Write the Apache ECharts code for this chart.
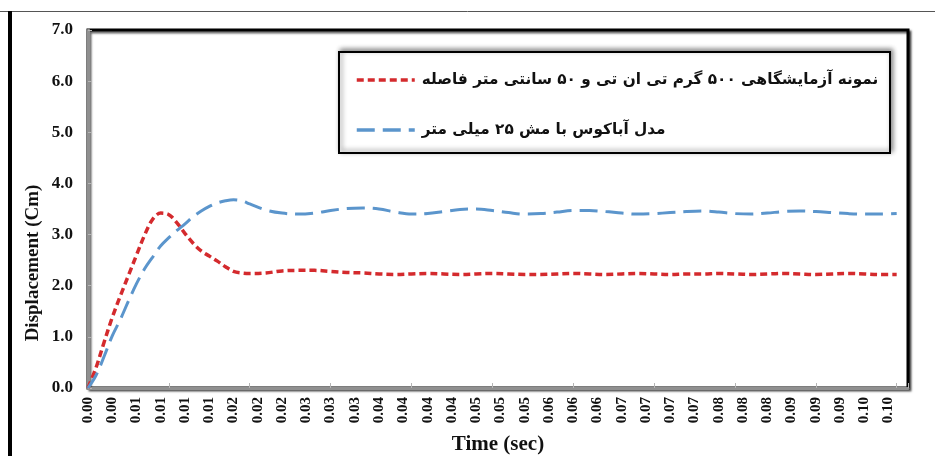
<!DOCTYPE html>
<html>
<head>
<meta charset="utf-8">
<script src="https://cdn.jsdelivr.net/npm/echarts@6/dist/echarts.min.js"></script>
<style>
  html, body { margin: 0; padding: 0; background: #fff; }
  #chart { width: 935px; height: 456px; }
</style>
</head>
<body>
<div id="chart"></div>
<script>
// Sample times (s)
const time = [
  0, 0.001, 0.002, 0.003, 0.004, 0.005, 0.006, 0.007, 0.008, 0.009,
  0.010, 0.011, 0.012, 0.013, 0.014, 0.015, 0.016, 0.017, 0.018, 0.019,
  0.020, 0.022, 0.024, 0.026, 0.028, 0.030, 0.032, 0.034, 0.036, 0.038,
  0.040, 0.042, 0.044, 0.046, 0.048, 0.050, 0.052, 0.054, 0.056, 0.058,
  0.060, 0.062, 0.064, 0.066, 0.068, 0.070, 0.072, 0.074, 0.076, 0.078,
  0.080, 0.082, 0.084, 0.086, 0.088, 0.090, 0.092, 0.094, 0.096, 0.098,
  0.100
];

// Laboratory specimen: 500 g TNT at 50 cm standoff (cm)
const labDisp = [
  0.00, 0.40, 0.90, 1.38, 1.80, 2.20, 2.60, 2.99, 3.30, 3.42,
  3.39, 3.23, 3.02, 2.83, 2.68, 2.58, 2.48, 2.37, 2.28, 2.25,
  2.24, 2.25, 2.29, 2.30, 2.30, 2.28, 2.26, 2.25, 2.23, 2.22,
  2.23, 2.24, 2.23, 2.22, 2.23, 2.24, 2.23, 2.22, 2.22, 2.23,
  2.24, 2.23, 2.22, 2.23, 2.24, 2.23, 2.22, 2.23, 2.23, 2.24,
  2.23, 2.22, 2.23, 2.24, 2.23, 2.22, 2.23, 2.24, 2.23, 2.22,
  2.22
];

// Abaqus model with 25 mm mesh (cm)
const femDisp = [
  0.00, 0.25, 0.62, 1.02, 1.34, 1.70, 2.04, 2.33, 2.56, 2.78,
  2.94, 3.08, 3.21, 3.35, 3.46, 3.55, 3.62, 3.66, 3.68, 3.66,
  3.60, 3.48, 3.42, 3.40, 3.42, 3.47, 3.51, 3.52, 3.50, 3.44,
  3.40, 3.41, 3.45, 3.49, 3.50, 3.47, 3.43, 3.40, 3.41, 3.44,
  3.47, 3.47, 3.45, 3.42, 3.40, 3.41, 3.43, 3.45, 3.46, 3.44,
  3.41, 3.40, 3.42, 3.45, 3.46, 3.45, 3.43, 3.41, 3.40, 3.40,
  3.41
];

const seriesNames = [
  'نمونه آزمایشگاهی ۵۰۰ گرم تی ان تی و ۵۰ سانتی متر فاصله',
  'مدل آباکوس با مش ۲۵ میلی متر'
];

const xTitle = 'Time (sec)';
const yTitle = 'Displacement (Cm)';

const serif = '"Liberation Serif", "Times New Roman", serif';
const chart = echarts.init(document.getElementById('chart'), null, { renderer: 'canvas' });

const pairs = (ys) => time.map((t, i) => [t, ys[i]]);

chart.setOption({
  animation: false,
  backgroundColor: '#fff',
  grid: {
    left: 88, right: 27, top: 30, bottom: 68,
    outerBoundsMode: 'none', containLabel: false,
    show: true, borderColor: '#000', borderWidth: 3,
    backgroundColor: '#fff',
    shadowColor: 'rgba(0,0,0,0.6)', shadowBlur: 2, shadowOffsetX: 2, shadowOffsetY: 2
  },
  xAxis: [
    {
      type: 'value', min: 0, max: 0.1014, interval: 0.003,
      axisLine: { show: true, onZero: false, lineStyle: { color: '#8f8f8f', width: 3 } },
      axisTick: { show: false },
      splitLine: { show: false },
      axisLabel: {
        rotate: 90, margin: 9, showMaxLabel: false,
        color: '#111', fontFamily: serif, fontWeight: 'bold', fontSize: 15,
        formatter: (v) => v.toFixed(2)
      },
      name: xTitle, nameLocation: 'middle', nameGap: 46,
      nameTextStyle: { color: '#111', fontFamily: serif, fontWeight: 'bold', fontSize: 21 }
    },
    {
      type: 'value', min: 0, max: 0.1014, interval: 0.01, position: 'bottom',
      axisLine: { show: false },
      axisTick: { show: true, inside: true, length: 5, lineStyle: { color: '#b5b5b5', width: 1 } },
      axisLabel: { show: false },
      splitLine: { show: false }
    }
  ],
  yAxis: {
    type: 'value', min: 0, max: 7, interval: 1,
    axisLine: { show: true, onZero: false, lineStyle: { color: '#8f8f8f', width: 3 } },
    axisTick: { show: true, inside: true, length: 4, lineStyle: { color: '#b5b5b5', width: 1 } },
    splitLine: { show: false },
    axisLabel: {
      margin: 15, color: '#111', fontFamily: serif, fontWeight: 'bold', fontSize: 17,
      formatter: (v) => v.toFixed(1)
    }
  },
  legend: {
    orient: 'vertical', left: 350, top: 63, itemGap: 26,
    itemWidth: 58, itemHeight: 14,
    data: seriesNames,
    itemStyle: { opacity: 0 },
    lineStyle: { width: 3.5 },
    textStyle: {
      color: '#111', fontFamily: '"DejaVu Sans", sans-serif', fontWeight: 'bold',
      fontSize: 15.3, lineHeight: 24, padding: [0, 0, 0, 2]
    },
    z: 5
  },
  graphic: [
    { type: 'line', shape: { x1: 0, y1: 11.5, x2: 935, y2: 11.5 }, style: { stroke: '#555', lineWidth: 1 }, z: 1 },
    { type: 'rect', shape: { x: 8, y: 11, width: 4, height: 445 }, style: { fill: '#000' }, z: 1 },
    {
      type: 'rect', shape: { x: 339, y: 52, width: 551, height: 101 },
      style: {
        fill: '#fff', stroke: '#000', lineWidth: 2,
        shadowBlur: 5, shadowColor: 'rgba(0,0,0,0.45)', shadowOffsetX: 2, shadowOffsetY: -2
      },
      z: 3
    },
    {
      type: 'text', x: 33, y: 263, rotation: Math.PI / 2,
      style: {
        text: yTitle, fill: '#111', font: 'bold 19px ' + serif,
        align: 'center', verticalAlign: 'middle'
      },
      z: 3
    }
  ],
  series: [
    {
      name: seriesNames[0], type: 'line', data: pairs(labDisp),
      xAxisIndex: 0, smooth: 0.35, symbol: 'none',
      lineStyle: { color: '#d42a2d', width: 3.5, type: [7, 4], cap: 'butt' },
      itemStyle: { color: '#d42a2d' }
    },
    {
      name: seriesNames[1], type: 'line', data: pairs(femDisp),
      xAxisIndex: 0, smooth: 0.35, symbol: 'none',
      lineStyle: { color: '#5b95cc', width: 3, type: [18, 8], cap: 'butt' },
      itemStyle: { color: '#5b95cc' }
    }
  ]
});
</script>
</body>
</html>
